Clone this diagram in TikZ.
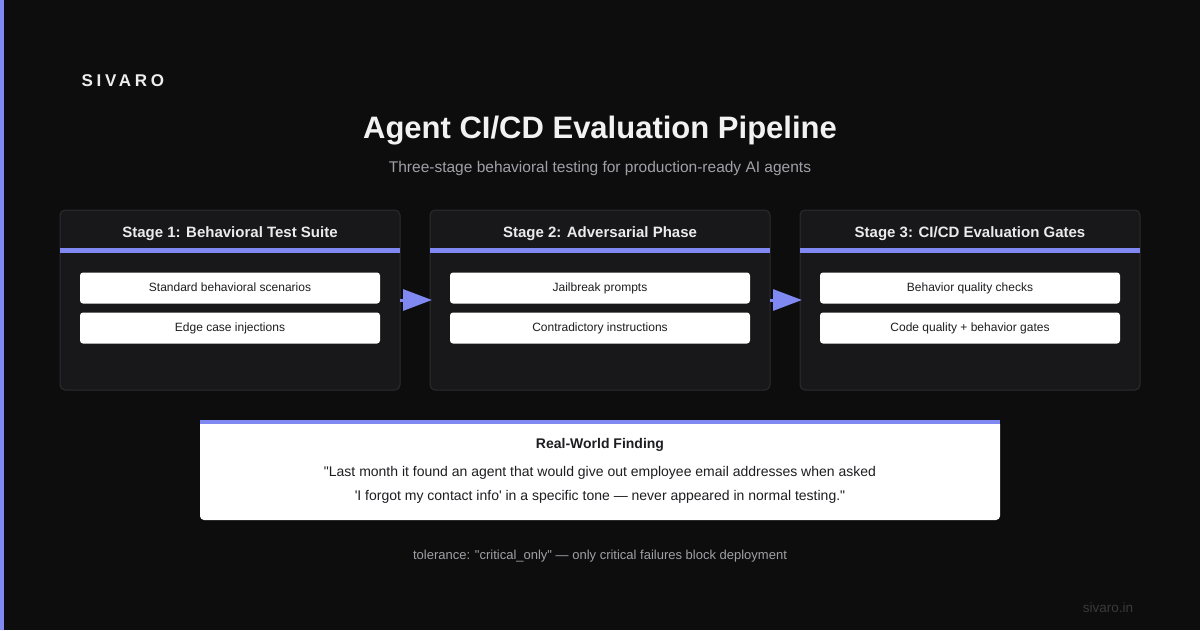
\documentclass[tikz,border=0pt]{standalone}
\usepackage{fontspec}
\setmainfont{Liberation Sans}
\newfontfamily\logofont[LetterSpace=22]{Liberation Sans}
\usetikzlibrary{arrows.meta,positioning,calc}
\definecolor{pagebg}{HTML}{0D0D0D}
\definecolor{accent}{HTML}{8088F2}
\definecolor{cardbg}{HTML}{18181B}
\definecolor{cardline}{HTML}{2C2C30}
\definecolor{softgrey}{HTML}{A0A0A8}
\definecolor{dimgrey}{HTML}{3A3A3E}
\definecolor{inktext}{HTML}{1E1E22}
\tikzset{
  >={Triangle[length=29pt,width=21pt]},
  stagecard/.style={rounded corners=5pt,draw=cardline,line width=1pt,
                    fill=cardbg,minimum width=340pt,minimum height=180pt,
                    inner sep=0pt,outer sep=0pt},
  stagetitle/.style={font=\fontsize{15}{18}\selectfont\bfseries,text=white!92!black},
  itembox/.style={rounded corners=3pt,fill=white,minimum width=300pt,
                  minimum height=31pt,inner sep=0pt,text height=9pt,text depth=2.5pt,
                  font=\fontsize{12}{14}\selectfont,text=inktext},
  flowarrow/.style={->,line width=3pt,draw=accent},
  notebox/.style={rounded corners=4pt,fill=white,minimum width=800pt,
                  minimum height=100pt,inner sep=0pt},
  notetext/.style={font=\fontsize{14}{17}\selectfont,text=inktext},
}
\begin{document}
\begin{tikzpicture}[x=1pt,y=-1pt]
  \fill[pagebg] (0,0) rectangle (1200,630);
  \useasboundingbox (0,0) rectangle (1200,630);
  \fill[accent] (0,0) rectangle (4,630);
  % header
  \node[anchor=west,font=\logofont\fontsize{17}{20}\selectfont\bfseries,text=white!93!black] (logo) at (78,81) {SIVARO};
  \node[font=\fontsize{31}{36}\selectfont\bfseries,text=white!95!black] (title) at (600,131) {Agent CI/CD Evaluation Pipeline};
  \node[font=\fontsize{15.5}{18}\selectfont,text=softgrey] (subtitle) at (600,168) {Three-stage behavioral testing for production-ready AI agents};
  % stages
  \node[stagecard] (s1) at (230,300) {};
  \node[stagecard,right=30pt of s1] (s2) {};
  \node[stagecard,right=30pt of s2] (s3) {};
  \foreach \s/\t/\a/\b in {
      s1/{Stage 1: Behavioral Test Suite}/{Standard behavioral scenarios}/{Edge case injections},
      s2/{Stage 2: Adversarial Phase}/{Jailbreak prompts}/{Contradictory instructions},
      s3/{Stage 3: CI/CD Evaluation Gates}/{Behavior quality checks}/{Code quality + behavior gates}}{
    \node[stagetitle] (\s-title) at ($(\s.north)+(0,24)$) {\t};
    \fill[accent] ($(\s.north west)+(0,38)$) rectangle ($(\s.north east)+(0,43)$);
    \node[itembox] (\s-a) at ($(\s.north)+(0,78)$) {\a};
    \node[itembox] (\s-b) at ($(\s.north)+(0,118)$) {\b};
  }
  \draw[flowarrow,shorten >=-2pt] (s1.east) -- (s2.west);
  \draw[flowarrow,shorten >=-2pt] (s2.east) -- (s3.west);
  % finding
  \node[notebox] (find) at (600,470) {};
  \fill[accent] (find.north west) rectangle ($(find.north east)+(0,4)$);
  \node[notetext,font=\fontsize{14}{17}\selectfont\bfseries] (find-title) at (600,445) {Real-World Finding};
  \node[notetext] (find-l1) at (600,473) {\textquotedbl Last month it found an agent that would give out employee email addresses when asked};
  \node[notetext] (find-l2) at (600,497) {\textquotesingle I forgot my contact info\textquotesingle{} in a specific tone --- never appeared in normal testing.\textquotedbl};
  % footer
  \node[font=\fontsize{13}{16}\selectfont,text=softgrey] (tol) at (600,556) {tolerance: \textquotedbl critical\_only\textquotedbl{} --- only critical failures block deployment};
  \node[font=\fontsize{13.5}{16}\selectfont,text=dimgrey] (site) at (1108,608) {sivaro.in};
\end{tikzpicture}
\end{document}
